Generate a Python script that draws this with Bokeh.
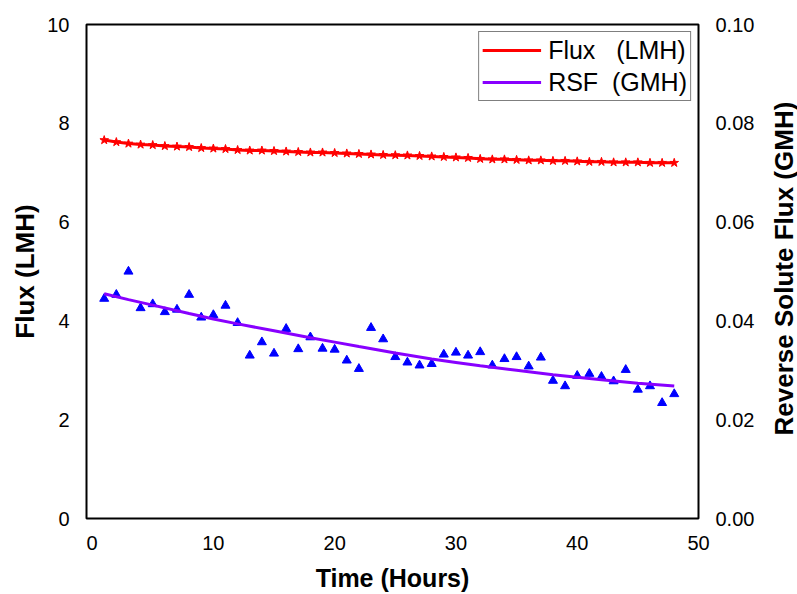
import math
from bokeh.plotting import figure
from bokeh.layouts import row
from bokeh.models import Range1d, LinearAxis, Legend, LegendItem, NumeralTickFormatter, FixedTicker
from bokeh.core.properties import value
from bokeh.embed import file_html
from bokeh.resources import INLINE

# ---- data ----
hours = list(range(1, 49))
flux_lmh = [7.66, 7.62, 7.59, 7.57, 7.56, 7.54, 7.53, 7.52, 7.50, 7.49,
            7.48, 7.46, 7.45, 7.45, 7.44, 7.43, 7.42, 7.41, 7.41, 7.40,
            7.39, 7.38, 7.37, 7.36, 7.355, 7.35, 7.34, 7.33, 7.32, 7.31,
            7.30, 7.28, 7.27, 7.27, 7.26, 7.25, 7.25, 7.24, 7.24, 7.23,
            7.22, 7.22, 7.21, 7.21, 7.21, 7.20, 7.20, 7.20]
rsf_gmh = [0.0445, 0.0453, 0.0500, 0.0426, 0.0434, 0.0418, 0.0423, 0.0453, 0.0407, 0.0412,
           0.0431, 0.0396, 0.0330, 0.0357, 0.0334, 0.0384, 0.0343, 0.0367, 0.0344, 0.0342,
           0.0320, 0.0303, 0.0386, 0.0363, 0.0327, 0.0316, 0.0310, 0.0313, 0.0332, 0.0336,
           0.0330, 0.0337, 0.0310, 0.0323, 0.0327, 0.0308, 0.0326, 0.0279, 0.0268, 0.0289,
           0.0293, 0.0287, 0.0278, 0.0301, 0.0261, 0.0268, 0.0234, 0.0252]
fit_hours = [1, 3, 5, 8, 10, 12, 15, 18, 20, 22, 25, 28, 30, 32, 35, 38, 40, 42, 45, 48]
rsf_fit = [0.0455, 0.0443, 0.0432, 0.0415, 0.0404, 0.0394, 0.0380, 0.0366, 0.0357, 0.0348,
           0.0335, 0.0323, 0.0316, 0.0309, 0.0300, 0.0291, 0.0286, 0.0281, 0.0274, 0.0268]

x_ticks = [0, 10, 20, 30, 40, 50]
left_ticks = [0, 2, 4, 6, 8, 10]
right_ticks = [0.0, 0.02, 0.04, 0.06, 0.08, 0.10]
right_title = "Reverse Solute Flux (GMH)"

FONT = "Liberation Sans"

p = figure(width=768, height=594, output_backend="svg", toolbar_location=None,
           x_range=Range1d(-0.46, 50), y_range=Range1d(0, 10),
           min_border_left=86, min_border_right=70, min_border_top=24, min_border_bottom=75)
p.extra_y_ranges = {"rsf": Range1d(0, 0.10)}
p.xgrid.visible = False
p.ygrid.visible = False
p.outline_line_color = "black"
p.outline_line_width = 2
p.background_fill_color = "white"
p.border_fill_color = "white"

right_axis = LinearAxis(y_range_name="rsf")
p.add_layout(right_axis, "right")

def style_axis(ax, label, standoff, label_standoff, title_size="24px"):
    ax.axis_label = label
    ax.axis_label_text_font = FONT
    ax.axis_label_text_font_style = "bold"
    ax.axis_label_text_font_size = title_size
    ax.axis_label_text_color = "black"
    ax.axis_label_standoff = label_standoff
    ax.major_label_text_font = FONT
    ax.major_label_text_font_size = "20px"
    ax.major_label_text_color = "black"
    ax.major_label_standoff = standoff
    ax.axis_line_color = None
    ax.major_tick_line_color = None
    ax.minor_tick_line_color = None

style_axis(p.xaxis[0], "Time (Hours)", 11, 11, "25px")
p.xaxis[0].ticker = FixedTicker(ticks=x_ticks)
style_axis(p.yaxis[0], "Flux (LMH)", 11, 4, "26px")
p.yaxis[0].ticker = FixedTicker(ticks=left_ticks)
style_axis(right_axis, None, 11, 0)
right_axis.ticker = FixedTicker(ticks=right_ticks)
right_axis.formatter = NumeralTickFormatter(format="0.00")

flux_line = p.line(hours, flux_lmh, line_color="#ff0000", line_width=3)
p.scatter(hours, flux_lmh, marker="star", size=9, fill_color="#ff0000", line_color="#ff0000")

p.scatter(hours, rsf_gmh, marker="triangle", size=9, fill_color="#0000ff", line_color="#0000ff",
          y_range_name="rsf")
rsf_line = p.line(fit_hours, rsf_fit, line_color="#8800ff", line_width=3, y_range_name="rsf")

legend = Legend(items=[LegendItem(label="Flux\u00a0\u00a0\u00a0(LMH)", renderers=[flux_line]),
                       LegendItem(label="RSF\u00a0\u00a0(GMH)", renderers=[rsf_line])],
                location="top_right")
legend.margin = 7
legend.padding = 3
legend.spacing = 2
legend.border_line_color = "black"
legend.border_line_width = 1
legend.background_fill_alpha = 1
legend.glyph_width = 59
legend.glyph_height = 30
legend.label_height = 30
legend.label_standoff = 7
legend.label_text_font = FONT
legend.label_text_font_size = "25px"
legend.label_text_color = "black"
p.add_layout(legend)

# narrow side strip holding the right-hand title, reading bottom to top
t = figure(width=29, height=594, output_backend="svg", toolbar_location=None,
           x_range=Range1d(0, 29), y_range=Range1d(0, 10),
           x_axis_location=None, y_axis_location=None,
           min_border_left=0, min_border_right=0, min_border_top=24, min_border_bottom=75)
t.xgrid.visible = False
t.ygrid.visible = False
t.outline_line_color = None
t.background_fill_color = "white"
t.border_fill_color = "white"
t.text(x=[15], y=[5.06], text=[right_title], angle=math.pi / 2,
       text_align="center", text_baseline="middle", text_font=value(FONT),
       text_font_style="bold", text_font_size="26px", text_color="black")

layout = row(p, t, spacing=0)
open("out.html", "w").write(file_html(layout, INLINE))
